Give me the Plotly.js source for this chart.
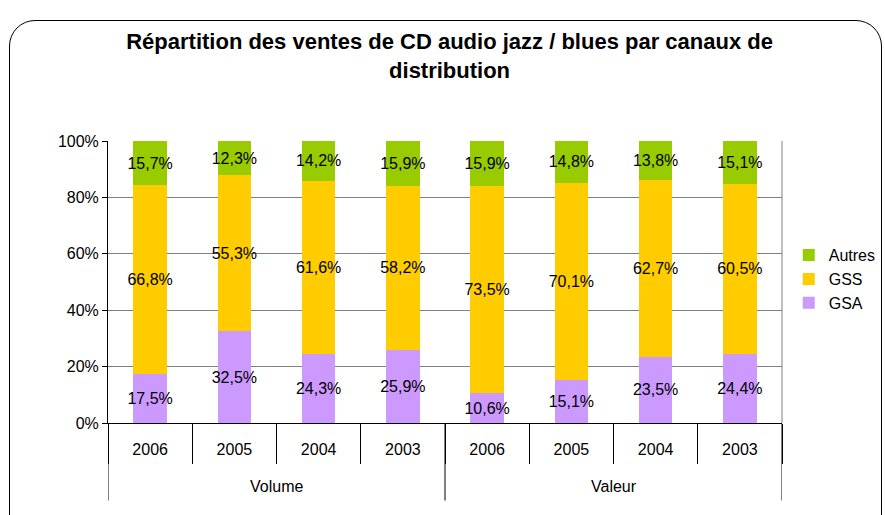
<!DOCTYPE html>
<html>
<head>
<meta charset="utf-8">
<script src="https://cdn.plot.ly/plotly-3.0.1.min.js"></script>
<style>
  body { margin: 0; background: #fff; }
  #wrap { position: relative; width: 885px; height: 515px; }
  #chart { position: absolute; left: 0; top: 0; width: 885px; height: 515px; }
  #frame {
    position: absolute; left: 9px; top: 20px; width: 871px; height: 520px;
    border: 1px solid #000; border-radius: 26px; pointer-events: none;
  }
</style>
</head>
<body>
<div id="wrap">
  <div id="chart"></div>
  <div id="frame"></div>
</div>
<script>
// --- données ---
const groupes = ['Volume', 'Volume', 'Volume', 'Volume', 'Valeur', 'Valeur', 'Valeur', 'Valeur'];
const annees = ['2006', '2005', '2004', '2003', '2006', '2005', '2004', '2003'];

const gsa = [17.5, 32.5, 24.3, 25.9, 10.6, 15.1, 23.5, 24.4];
const gss = [66.8, 55.3, 61.6, 58.2, 73.5, 70.1, 62.7, 60.5];
const autres = [15.7, 12.3, 14.2, 15.9, 15.9, 14.8, 13.8, 15.1];

const police = 'Liberation Sans, Arial, sans-serif';
const idx = annees.map((_, i) => i);

function serie(nom, valeurs, couleur) {
    return {
        type: 'bar',
        name: nom,
        x: idx,
        y: valeurs,
        marker: { color: couleur, line: { width: 0 } },
        width: 0.4,
        texttemplate: '%{y:.1f}%',
        textposition: 'inside',
        insidetextanchor: 'middle',
        textangle: 0,
        constraintext: 'none',
        insidetextfont: { family: police, size: 16, color: '#000' },
        hoverinfo: 'skip'
    };
}

const data = [
    serie('GSA', gsa, '#CC99FF'),
    serie('GSS', gss, '#FFCC00'),
    serie('Autres', autres, '#99CC00')
];

// groupes : libellés centrés et séparateurs verticaux sous l'axe
const nomsGroupes = [...new Set(groupes)];
const annotations = nomsGroupes.map(g => {
    const pos = idx.filter(i => groupes[i] === g);
    return {
        x: (pos[0] + pos[pos.length - 1]) / 2,
        xref: 'x',
        y: -0.225,
        yref: 'paper',
        text: g,
        showarrow: false,
        font: { family: police, size: 16, color: '#000' },
        yanchor: 'middle'
    };
});

const bornes = [-0.5];
nomsGroupes.forEach(g => {
    const pos = idx.filter(i => groupes[i] === g);
    bornes.push(pos[pos.length - 1] + 0.5);
});
const shapes = bornes.map(b => ({
    type: 'line', xref: 'x', yref: 'paper',
    x0: b, x1: b, y0: 0, y1: -0.275,
    line: { color: '#000', width: 1 }
}));
// bord droit de la zone de traçage
shapes.push({
    type: 'line', xref: 'paper', yref: 'paper',
    x0: 1, x1: 1, y0: 0, y1: 1,
    line: { color: '#808080', width: 1 }
});

const layout = {
    width: 885,
    height: 515,
    barmode: 'stack',
    separators: ', ',
    uniformtext: { mode: false },
    font: { family: police, size: 15, color: '#000' },
    paper_bgcolor: 'rgba(0,0,0,0)',
    plot_bgcolor: '#fff',
    margin: { l: 108, r: 103, t: 141, b: 92, autoexpand: false },
    title: {
        text: 'Répartition des ventes de CD audio jazz / blues par canaux de<br>distribution',
        font: { family: police, size: 22, color: '#000', weight: 'bold' },
        x: 0.508,
        xanchor: 'center',
        y: 0.905,
        yanchor: 'top'
    },
    xaxis: {
        range: [-0.5, idx.length - 0.5],
        tickvals: idx,
        ticktext: annees,
        ticks: '',
        ticklabelstandoff: 12,
        showline: true,
        linecolor: '#000',
        linewidth: 1,
        showgrid: false,
        zeroline: false,
        minor: {
            tick0: -0.5,
            dtick: 1,
            ticks: 'outside',
            ticklen: 40,
            tickcolor: '#000',
            showgrid: false
        },
        tickfont: { family: police, size: 16 }
    },
    yaxis: {
        range: [0, 100],
        dtick: 20,
        ticksuffix: '%',
        showline: true,
        linecolor: '#000',
        ticks: 'outside',
        ticklen: 5,
        tickcolor: '#000',
        gridcolor: '#808080',
        gridwidth: 1,
        zeroline: false,
        tickfont: { family: police, size: 16 }
    },
    annotations: annotations,
    shapes: shapes,
    showlegend: true,
    legend: {
        x: 1.01,
        y: 0.51,
        yanchor: 'middle',
        font: { family: police, size: 16 },
        itemwidth: 30,
        tracegroupgap: 0
    }
};

Plotly.newPlot('chart', data, layout, { displayModeBar: false, staticPlot: true });
</script>
</body>
</html>
